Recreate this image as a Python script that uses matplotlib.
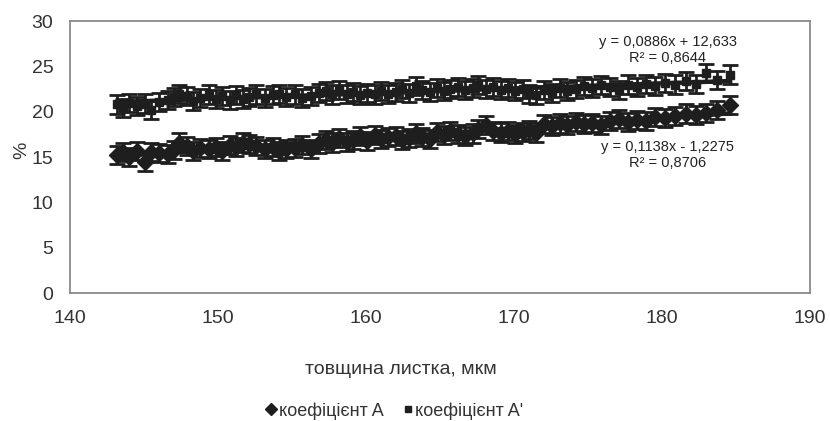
import numpy as np
import matplotlib

matplotlib.use("Agg")
import matplotlib.pyplot as plt
from matplotlib.lines import Line2D

plt.rcParams["font.family"] = ["Liberation Sans", "DejaVu Sans"]

# leaf thickness, um (shared by both coefficients)
thickness = [143.2, 143.6, 144.0, 144.5, 145.1, 145.5, 146.0, 146.6, 147.0, 147.4,
             147.9, 148.3, 148.8, 149.4, 149.9, 150.3, 150.8, 151.2, 151.7, 152.1,
             152.6, 153.2, 153.7, 154.1, 154.6, 155.2, 155.7, 156.3, 156.8, 157.3,
             157.7, 158.2, 158.7, 159.1, 159.6, 160.1, 160.6, 161.0, 161.5, 162.0,
             162.4, 162.9, 163.4, 163.8, 164.3, 164.8, 165.3, 165.7, 166.2, 166.7,
             167.2, 167.6, 168.1, 168.6, 169.1, 169.6, 170.1, 170.6, 171.0, 171.5,
             172.0, 172.6, 173.1, 173.6, 174.2, 174.7, 175.3, 175.9, 176.5, 177.1,
             177.7, 178.3, 178.9, 179.5, 180.2, 180.9, 181.6, 182.3, 183.0, 183.7,
             184.6]

coef_a = [15.2, 15.6, 15.0, 15.7, 14.5, 15.6, 15.4, 15.3, 15.8, 16.6,
          16.2, 15.7, 16.0, 15.9, 16.1, 15.7, 16.3, 16.1, 16.6, 16.4,
          16.2, 15.9, 16.1, 15.7, 15.9, 16.0, 16.3, 15.9, 16.5, 16.9,
          16.6, 17.1, 16.7, 16.9, 17.3, 16.8, 17.4, 17.0, 17.2, 17.3,
          16.9, 17.1, 17.6, 17.2, 17.0, 17.8, 17.4, 17.9, 17.5, 17.3,
          17.6, 18.1, 18.5, 17.9, 17.7, 17.9, 17.5, 17.8, 18.0, 17.7,
          18.6, 18.4, 18.7, 18.5, 18.9, 18.6, 18.8, 18.5, 19.0, 19.2,
          18.9, 19.1, 19.0, 19.4, 19.3, 19.5, 19.8, 19.6, 19.9, 20.2,
          20.7]

coef_a2 = [20.8, 20.4, 21.0, 20.6, 20.9, 20.2, 21.1, 21.3, 21.6, 22.0,
           21.7, 21.2, 21.5, 21.9, 21.4, 21.7, 21.3, 21.8, 21.4, 21.6,
           21.9, 21.5, 21.8, 22.0, 21.6, 21.9, 21.5, 21.7, 22.1, 22.3,
           21.9, 22.4, 22.0, 22.2, 21.8, 22.1, 21.9, 22.3, 22.0, 22.2,
           22.5, 22.1, 22.8, 22.4, 22.2, 22.6, 22.3, 22.5, 22.7, 22.4,
           22.6, 22.9, 22.5, 22.7, 22.4, 22.6, 22.3, 22.5, 22.0, 21.8,
           22.4, 22.1, 22.6, 22.3, 22.5, 22.8, 22.6, 22.9, 22.7, 22.4,
           23.0, 22.7, 23.1, 22.8, 23.2, 23.0, 23.4, 23.1, 24.3, 23.5,
           24.1]

err_a = 1.0
err_a2 = 1.0

labels = ["коефіцієнт A", "коефіцієнт A'"]
eq_texts = ["y = 0,1138x - 1,2275\nR² = 0,8706",
            "y = 0,0886x + 12,633\nR² = 0,8644"]

fig = plt.figure(figsize=(8.3, 4.21), dpi=100)
ax = fig.add_axes([0.0843, 0.304, 0.8916, 0.646])

ink = "#1e1e1e"
x = np.array(thickness)
for y, err, mk, ms in [(coef_a, err_a, "D", 8), (coef_a2, err_a2, "s", 6)]:
    y = np.array(y)
    ax.errorbar(x, y, yerr=err, fmt=mk, ms=ms, color=ink, ecolor=ink,
                elinewidth=2, capsize=5.5, capthick=2, zorder=3)
    k, b = np.polyfit(x, y, 1)
    xs = np.array([x.min(), x.max()])
    ax.plot(xs, k * xs + b, color=ink, lw=3.2, zorder=4)

# trendline equations
ax.text(180.4, 15.2, eq_texts[0], ha="center", va="center", fontsize=10.5,
        color="#222222", linespacing=1.15)
ax.text(180.4, 26.8, eq_texts[1], ha="center", va="center", fontsize=10.5,
        color="#222222", linespacing=1.15)

ax.set_xlim(140, 190)
ax.set_ylim(0, 30)
ax.set_xticks(range(140, 191, 10))
ax.set_yticks(range(0, 31, 5))
ax.tick_params(length=0, labelsize=14, labelcolor="#333333")
ax.tick_params(axis="x", pad=12)
ax.tick_params(axis="y", pad=12)
for s in ax.spines.values():
    s.set_color("#8a8a8a")
    s.set_linewidth(1.3)

fig.text(22 / 830, 1 - 150 / 421, "%", rotation=90, ha="center", va="center",
         fontsize=14, color="#333333")
fig.text(401 / 830, 1 - 370 / 421, "товщина листка, мкм", ha="center", va="center",
         fontsize=14, color="#333333")

handles = [Line2D([], [], ls="none", marker="D", ms=6.5, color=ink),
           Line2D([], [], ls="none", marker="s", ms=4.5, color=ink)]
fig.legend(handles, labels, loc="center", bbox_to_anchor=(395 / 830, 1 - 411 / 421),
           ncol=2, frameon=False, fontsize=13, handlelength=0.5, handletextpad=0.15,
           columnspacing=1.1, labelcolor="#333333", borderpad=0)

fig.savefig("out.png", dpi=100)
